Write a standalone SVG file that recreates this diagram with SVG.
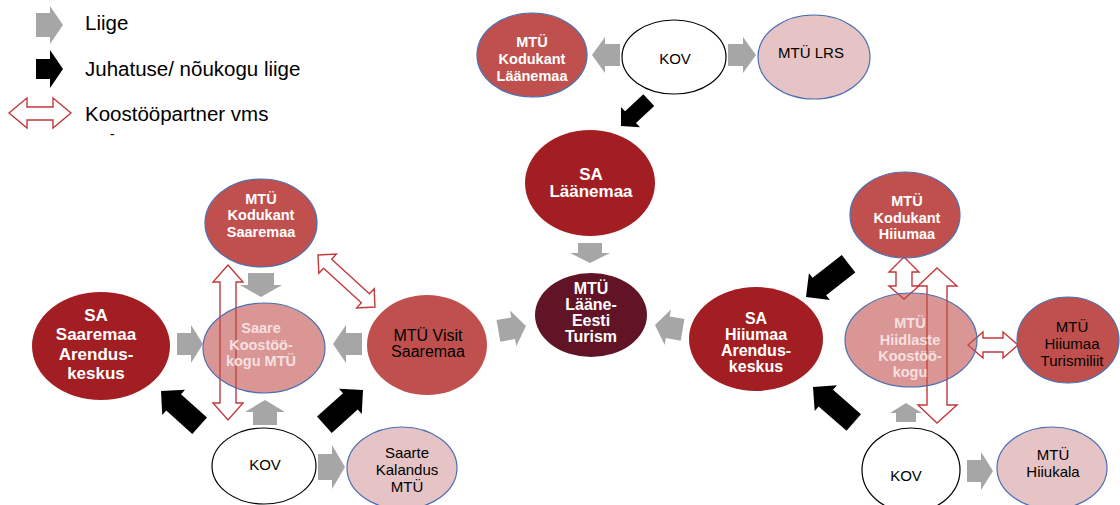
<svg xmlns="http://www.w3.org/2000/svg" width="1120" height="505" viewBox="0 0 1120 505">
<style>
text{font-family:"Liberation Sans",Arial,sans-serif;text-anchor:middle}
.lg{font-size:20.5px;text-anchor:start;fill:#000}
.g{fill:#a6a6a6}
.b{fill:#000}
.r{fill:#fff;stroke:#c0393b;stroke-width:1.4;stroke-linejoin:miter}
.mid{fill:#c0504d;stroke:#4a6fb5;stroke-width:1.2}
.midn{fill:#c0504d}
.dark{fill:#a21e22}
.maroon{fill:#621427}
.pink{fill:#e6c3c4;stroke:#4a6fb5;stroke-width:1.2}
.kov{fill:#fff;stroke:#000;stroke-width:1.2}
.tr{fill:#c0504d;fill-opacity:0.6;stroke:#4a6fb5;stroke-width:1.2}
.w{fill:#fff;font-size:14.5px;font-weight:bold}
.w17{fill:#fff;font-size:17px;font-weight:bold}
.w16{fill:#fff;font-size:16px;font-weight:bold}
.k{fill:#000;font-size:15px}
.p{fill:#f6e0e0;font-size:14.5px;font-weight:bold}
</style>

<g id="legend">
  <polygon class="g" transform="translate(63,25)" points="0,0 -13,-19 -13,-12 -27,-12 -27,12 -13,12 -13,19"/>
  <polygon class="b" transform="translate(63,69)" points="0,0 -13,-19 -13,-10 -27,-10 -27,10 -13,10 -13,19"/>
  <polygon class="r" points="9,113 27,98 27,107 53,107 53,98 71,113 53,128 53,120 27,120 27,128"/>
  <text class="lg" x="85" y="30">Liige</text>
  <text class="lg" x="85" y="76">Juhatuse/ nõukogu liige</text>
  <text class="lg" x="85" y="121">Koostööpartner vms</text>
  <text class="lg" x="110" y="139" style="font-size:14px">-</text>
</g>

<g id="connectors">
  <polygon class="g" transform="translate(592,55) rotate(180)" points="0,0 -13,-18 -13,-11 -28,-11 -28,11 -13,11 -13,18"/>
  <polygon class="g" transform="translate(756,55)" points="0,0 -13,-18 -13,-11 -28,-11 -28,11 -13,11 -13,18"/>
  <polygon class="g" transform="translate(590,263) rotate(90)" points="0,0 -10,-20 -10,-12 -20,-12 -20,12 -10,12 -10,20"/>
  <polygon class="g" transform="translate(526,326) rotate(-10)" points="0,0 -13,-18 -13,-11 -28,-11 -28,11 -13,11 -13,18"/>
  <polygon class="g" transform="translate(655,325) rotate(190)" points="0,0 -13,-18 -13,-11 -28,-11 -28,11 -13,11 -13,18"/>
  <polygon class="g" transform="translate(203,344)" points="0,0 -12,-19 -12,-11 -26,-11 -26,11 -12,11 -12,19"/>
  <polygon class="g" transform="translate(333,344) rotate(180)" points="0,0 -13,-19 -13,-11 -29,-11 -29,11 -13,11 -13,19"/>
  <polygon class="g" transform="translate(261,297) rotate(90)" points="0,0 -12,-21 -12,-13 -24,-13 -24,13 -12,13 -12,21"/>
  <polygon class="g" transform="translate(265,400) rotate(-90)" points="0,0 -12,-20 -12,-12 -25,-12 -25,12 -12,12 -12,20"/>
  <polygon class="g" transform="translate(345,467)" points="0,0 -13,-22 -13,-13 -27,-13 -27,13 -13,13 -13,22"/>
  <polygon class="g" transform="translate(906,403) rotate(-90)" points="0,0 -10,-16 -10,-10 -19,-10 -19,10 -10,10 -10,16"/>
  <polygon class="g" transform="translate(993,471)" points="0,0 -12,-19 -12,-11 -26,-11 -26,11 -12,11 -12,19"/>
  <polygon class="b" transform="translate(621,126) rotate(137)" points="0,0 -13,-14 -13,-8 -38,-8 -38,8 -13,8 -13,14"/>
  <polygon class="b" transform="translate(161,391) rotate(-138)" points="0,0 -17,-17 -17,-11 -52,-11 -52,11 -17,11 -17,17"/>
  <polygon class="b" transform="translate(363,390) rotate(-42)" points="0,0 -17,-17 -17,-11 -52,-11 -52,11 -17,11 -17,17"/>
  <polygon class="b" transform="translate(806,297) rotate(142)" points="0,0 -17,-17 -17,-11 -54,-11 -54,11 -17,11 -17,17"/>
  <polygon class="b" transform="translate(813,387) rotate(-139)" points="0,0 -17,-17 -17,-11 -54,-11 -54,11 -17,11 -17,17"/>
  <polygon class="r" points="228,265 243,282 236,282 236,403 243,403 228,420 213,403 220,403 220,282 213,282"/>
  <polygon class="r" transform="translate(346.5,281) rotate(42.4)" points="-38.6,0 -25.6,-13 -25.6,-6 25.6,-6 25.6,-13 38.6,0 25.6,13 25.6,6 -25.6,6 -25.6,13"/>
  <polygon class="r" points="904,257 919,272 912,272 912,286 919,286 904,299 889,286 896,286 896,272 889,272"/>
  <polygon class="r" points="937,268 957,286 947,286 947,405 957,405 937,423 918,405 927,405 927,286 918,286"/>
  <polygon class="r" points="968,345 983,332 983,338 1003,338 1003,332 1018,345 1003,358 1003,352 983,352 983,358"/>
</g>

<g id="kodukant-laanemaa">
  <ellipse class="mid" cx="532" cy="55" rx="55" ry="42"/>
  <text class="w" x="532" y="47">MTÜ</text>
  <text class="w" x="532" y="64">Kodukant</text>
  <text class="w" x="532" y="81">Läänemaa</text>
</g>
<g id="kov-laanemaa">
  <ellipse class="kov" cx="674" cy="57" rx="52" ry="37"/>
  <text class="k" x="675" y="64">KOV</text>
</g>
<g id="mtu-lrs">
  <ellipse class="pink" cx="814" cy="57" rx="56" ry="42"/>
  <text class="k" x="811" y="58">MTÜ LRS</text>
</g>
<g id="sa-laanemaa">
  <ellipse class="dark" cx="590" cy="183" rx="65" ry="53"/>
  <text class="w17" x="591" y="180">SA</text>
  <text class="w17" x="591" y="197">Läänemaa</text>
</g>
<g id="laane-eesti-turism">
  <ellipse class="maroon" cx="591" cy="315" rx="56" ry="42"/>
  <text class="w16" x="591" y="294">MTÜ</text>
  <text class="w16" x="591" y="310">Lääne-</text>
  <text class="w16" x="591" y="326">Eesti</text>
  <text class="w16" x="591" y="342">Turism</text>
</g>

<g id="kodukant-saaremaa">
  <ellipse class="mid" cx="261" cy="223" rx="56" ry="44"/>
  <text class="w" x="261" y="204">MTÜ</text>
  <text class="w" x="261" y="220">Kodukant</text>
  <text class="w" x="261" y="237">Saaremaa</text>
</g>
<g id="saare-koostookogu">
  <ellipse class="tr" cx="264" cy="348" rx="61" ry="45"/>
  <text class="p" x="261" y="333">Saare</text>
  <text class="p" x="261" y="350">Koostöö-</text>
  <text class="p" x="261" y="366">kogu MTÜ</text>
</g>
<g id="sa-saaremaa">
  <ellipse class="dark" cx="101" cy="346" rx="69" ry="54"/>
  <text class="w17" x="96" y="321">SA</text>
  <text class="w17" x="96" y="340">Saaremaa</text>
  <text class="w17" x="96" y="360">Arendus-</text>
  <text class="w17" x="96" y="379">keskus</text>
</g>
<g id="visit-saaremaa">
  <ellipse class="midn" cx="427" cy="345" rx="60" ry="50"/>
  <text class="k" x="428" y="341" style="font-size:16px">MTÜ Visit</text>
  <text class="k" x="428" y="357" style="font-size:16px">Saaremaa</text>
</g>
<g id="kov-saaremaa">
  <ellipse class="kov" cx="264" cy="466" rx="52" ry="38"/>
  <text class="k" x="265" y="470">KOV</text>
</g>
<g id="saarte-kalandus">
  <ellipse class="pink" cx="402" cy="468" rx="55" ry="41"/>
  <text class="k" x="407" y="458">Saarte</text>
  <text class="k" x="407" y="475">Kalandus</text>
  <text class="k" x="407" y="492">MTÜ</text>
</g>

<g id="kodukant-hiiumaa">
  <ellipse class="mid" cx="905" cy="215" rx="55" ry="43"/>
  <text class="w" x="907" y="206">MTÜ</text>
  <text class="w" x="907" y="223">Kodukant</text>
  <text class="w" x="907" y="239">Hiiumaa</text>
</g>
<g id="sa-hiiumaa">
  <ellipse class="dark" cx="756" cy="339" rx="67" ry="52"/>
  <text class="w16" x="756" y="324">SA</text>
  <text class="w16" x="756" y="340">Hiiumaa</text>
  <text class="w16" x="756" y="356">Arendus-</text>
  <text class="w16" x="756" y="372">keskus</text>
</g>
<g id="hiidlaste-koostookogu">
  <ellipse class="tr" cx="911" cy="340" rx="66" ry="47"/>
  <text class="p" x="910" y="328">MTÜ</text>
  <text class="p" x="910" y="345">Hiidlaste</text>
  <text class="p" x="910" y="361">Koostöö-</text>
  <text class="p" x="910" y="377">kogu</text>
</g>
<g id="hiiumaa-turismiliit">
  <ellipse class="mid" cx="1068" cy="340" rx="51" ry="43"/>
  <text class="k" x="1072" y="332">MTÜ</text>
  <text class="k" x="1072" y="349">Hiiumaa</text>
  <text class="k" x="1072" y="366">Turismiliit</text>
</g>
<g id="kov-hiiumaa">
  <ellipse class="kov" cx="911" cy="470" rx="49" ry="42"/>
  <text class="k" x="906" y="481">KOV</text>
</g>
<g id="hiiukala">
  <ellipse class="pink" cx="1052" cy="468" rx="55" ry="41"/>
  <text class="k" x="1053" y="460">MTÜ</text>
  <text class="k" x="1053" y="477">Hiiukala</text>
</g>
</svg>
